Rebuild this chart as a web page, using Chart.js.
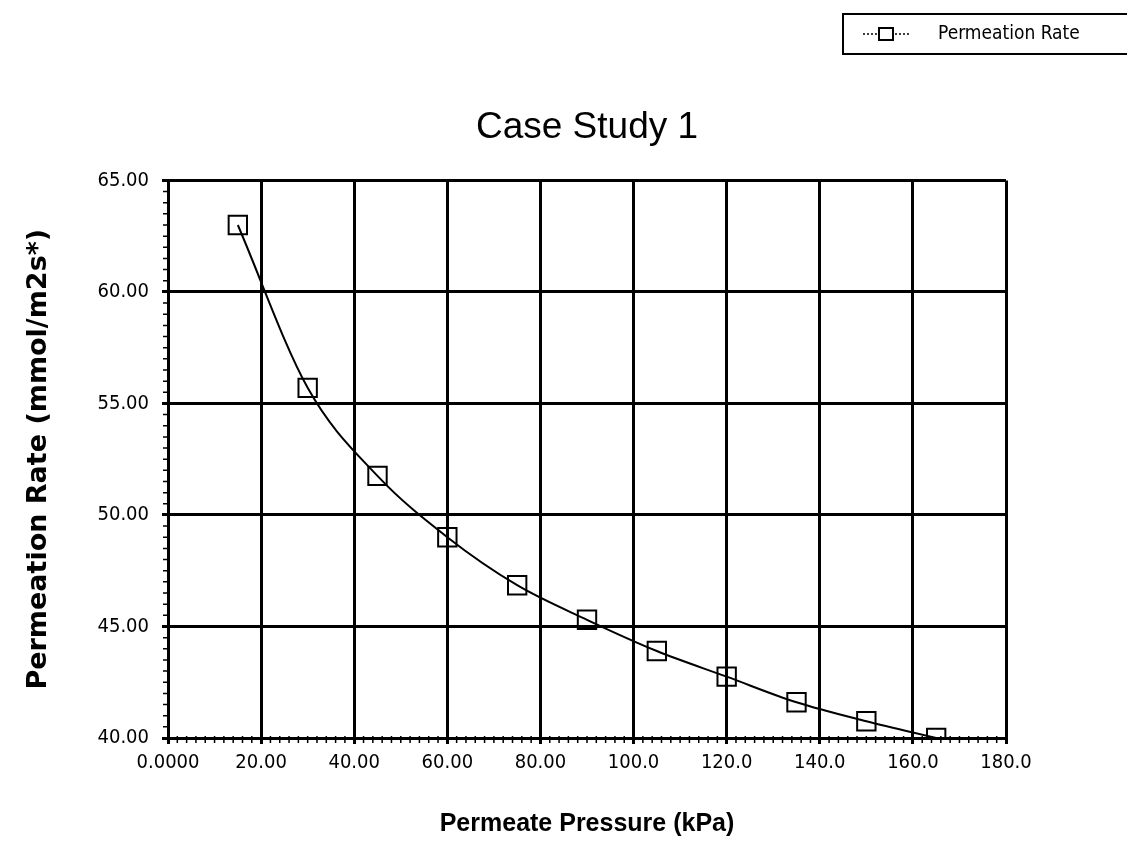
<!DOCTYPE html>
<html>
<head>
<meta charset="utf-8">
<script src="https://cdn.jsdelivr.net/npm/chart.js@4.4.1/dist/chart.umd.min.js"></script>
<style>
  html, body { margin: 0; padding: 0; background: #fff; }
  #wrap { width: 1127px; height: 852px; }
</style>
</head>
<body>
<div id="wrap"><canvas id="myChart" width="1127" height="852"></canvas></div>
<script>
// values
const pressure = [15, 30, 45, 60, 75, 90, 105, 120, 135, 150, 165];
const permeationRate = [63.0, 55.7, 51.75, 49.0, 46.85, 45.3, 43.9, 42.75, 41.6, 40.75, 40.0];

const xTickLabels = ['0.0000', '20.00', '40.00', '60.00', '80.00', '100.0', '120.0', '140.0', '160.0', '180.0'];
const yTickLabels = ['40.00', '45.00', '50.00', '55.00', '60.00', '65.00'];

const narrow = '"Liberation Sans Narrow", "DejaVu Sans Condensed", "Liberation Sans", sans-serif';

// small tick marks between the gridlines
const minorTicks = {
  id: 'minorTicks',
  afterDraw(chart) {
    const ctx = chart.ctx;
    const area = chart.chartArea;
    const xs = chart.scales.x;
    const ys = chart.scales.y;
    ctx.save();
    ctx.strokeStyle = '#000';
    ctx.lineWidth = 1.5;
    ctx.beginPath();
    for (let v = xs.min; v <= xs.max; v += 2) {
      let px = xs.getPixelForValue(v);
      ctx.moveTo(px, area.bottom - 2);
      ctx.lineTo(px, area.bottom + 5);
    }
    for (let v = ys.min; v <= ys.max; v += 0.5) {
      let py = ys.getPixelForValue(v);
      ctx.moveTo(area.left + 2, py);
      ctx.lineTo(area.left - 5, py);
    }
    ctx.stroke();
    ctx.restore();
  }
};

// boxed legend in the top right corner
const legendBox = {
  id: 'legendBox',
  afterDraw(chart) {
    const ctx = chart.ctx;
    const ds = chart.data.datasets[0];
    ctx.save();
    ctx.strokeStyle = '#000';
    ctx.lineWidth = 2;
    ctx.strokeRect(843, 14, 300, 40);

    ctx.lineWidth = 1.5;
    ctx.setLineDash([2, 2]);
    ctx.beginPath();
    ctx.moveTo(863, 34);
    ctx.lineTo(910, 34);
    ctx.stroke();
    ctx.setLineDash([]);
    ctx.fillStyle = '#fff';
    ctx.fillRect(879, 28, 14, 12);
    ctx.lineWidth = 2;
    ctx.strokeRect(879, 28, 14, 12);

    ctx.fillStyle = '#000';
    ctx.font = '19px ' + narrow;
    ctx.textBaseline = 'middle';
    ctx.fillText(ds.label, 938, 34);
    ctx.restore();
  }
};

const ctx = document.getElementById('myChart');
const chart = new Chart(ctx, {
  type: 'line',
  data: {
    datasets: [{
      label: 'Permeation Rate',
      data: pressure.map((p, i) => ({x: p, y: permeationRate[i]})),
      borderColor: '#000',
      borderWidth: 2,
      cubicInterpolationMode: 'monotone',
      fill: false,
      pointStyle: 'rect',
      pointRadius: 13,
      pointHoverRadius: 13,
      pointBorderWidth: 2,
      pointBorderColor: '#000',
      pointBackgroundColor: 'rgba(0,0,0,0)'
    }]
  },
  options: {
    responsive: false,
    animation: false,
    devicePixelRatio: 1,
    layout: { padding: { left: 0, right: 121, top: 0, bottom: 0 } },
    plugins: {
      legend: { display: false },
      tooltip: { enabled: false },
      title: {
        display: true,
        text: 'Case Study 1',
        fullSize: false,
        color: '#000',
        font: { family: '"Liberation Sans", Arial, sans-serif', size: 37, weight: 'normal' },
        padding: { top: 106, bottom: 30 }
      }
    },
    scales: {
      x: {
        type: 'linear',
        min: 0,
        max: 180,
        afterFit: (s) => { s.height = 114; },
        ticks: {
          stepSize: 20,
          color: '#000',
          padding: 7,
          maxRotation: 0,
          font: { family: narrow, size: 20 },
          callback: (v, i) => xTickLabels[i]
        },
        grid: { color: '#000', lineWidth: 3, tickLength: 6 },
        border: { color: '#000', width: 3 },
        title: {
          display: true,
          text: 'Permeate Pressure (kPa)',
          color: '#000',
          font: { family: '"Liberation Sans", Arial, sans-serif', size: 25, weight: 'bold' },
          padding: { top: 0, bottom: 13 }
        }
      },
      y: {
        type: 'linear',
        min: 40,
        max: 65,
        afterFit: (s) => { s.width = 168; },
        ticks: {
          stepSize: 5,
          color: '#000',
          padding: 13,
          font: { family: narrow, size: 20 },
          callback: (v, i) => yTickLabels[i]
        },
        grid: { color: '#000', lineWidth: 3, tickLength: 6 },
        border: { color: '#000', width: 3 },
        title: {
          display: true,
          text: 'Permeation Rate (mmol/m2s*)',
          color: '#000',
          font: { family: '"DejaVu Sans", sans-serif', size: 27, weight: 'bold' },
          padding: { top: 23, bottom: 0 }
        }
      }
    }
  },
  plugins: [minorTicks, legendBox]
});
</script>
</body>
</html>
